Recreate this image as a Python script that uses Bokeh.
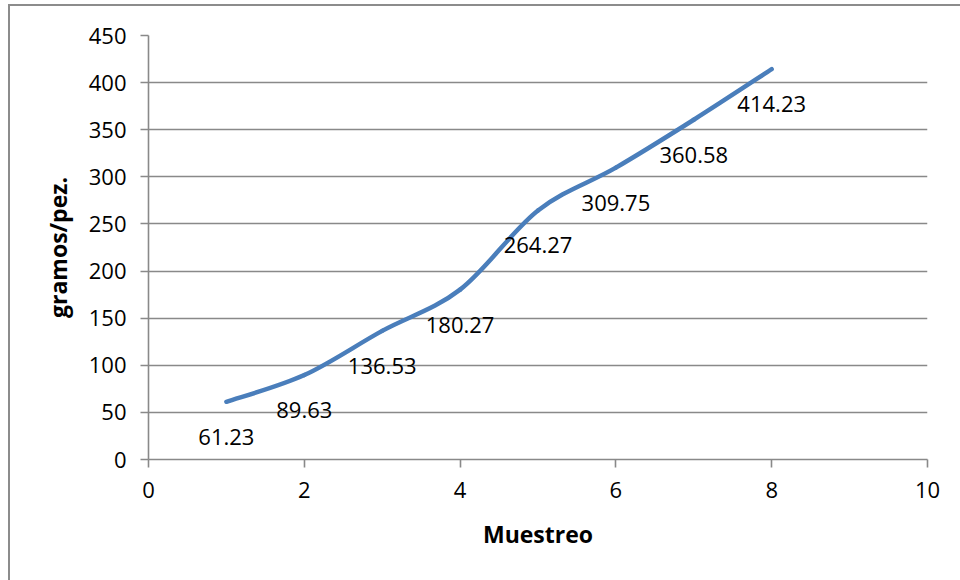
from bokeh.plotting import figure
from bokeh.models import ColumnDataSource, FixedTicker
from bokeh.embed import file_html
from bokeh.resources import INLINE
from bokeh.core.properties import value

# Data
muestreo = [1, 2, 3, 4, 5, 6, 7, 8]
gramos = [61.23, 89.63, 136.53, 180.27, 264.27, 309.75, 360.58, 414.23]
labels = ["61.23", "89.63", "136.53", "180.27", "264.27", "309.75", "360.58", "414.23"]
x_ticks = [0, 2, 4, 6, 8, 10]
y_ticks = [0, 50, 100, 150, 200, 250, 300, 350, 400, 450]

FONT = "Open Sans"
GRAY = "#898989"

p = figure(width=950, height=574, x_range=(0, 10), y_range=(0, 450),
           output_backend="svg", toolbar_location=None,
           min_border_left=138, min_border_right=33,
           min_border_top=29, min_border_bottom=121)
p.margin = (6, 0, 0, 10)
p.styles = {"outline": "2px solid #8c8c8c"}
p.outline_line_color = None
p.background_fill_color = "white"
p.border_fill_color = "white"

# Grid
p.xgrid.grid_line_color = None
p.ygrid.grid_line_color = GRAY
p.ygrid.grid_line_width = 1.6
p.ygrid.ticker = FixedTicker(ticks=y_ticks)

# Axes
p.xaxis.ticker = FixedTicker(ticks=x_ticks)
p.yaxis.ticker = FixedTicker(ticks=y_ticks)
for ax in (p.xaxis[0], p.yaxis[0]):
    ax.axis_line_color = GRAY
    ax.axis_line_width = 1.6
    ax.major_tick_line_color = GRAY
    ax.major_tick_line_width = 1.6
    ax.major_tick_in = 0
    ax.major_tick_out = 8
    ax.minor_tick_line_color = None
    ax.major_label_text_font = FONT
    ax.major_label_text_font_size = "22px"
    ax.major_label_text_color = "black"
    ax.axis_label_text_font = FONT
    ax.axis_label_text_font_size = "23px"
    ax.axis_label_text_font_style = "bold"
    ax.axis_label_text_color = "black"

p.xaxis.axis_label = "Muestreo"
p.yaxis.axis_label = "gramos/pez."
p.xaxis.major_label_standoff = 14
p.yaxis.major_label_standoff = 14
p.xaxis.axis_label_standoff = 17
p.yaxis.axis_label_standoff = 12

# Smoothed line (Bezier segments from data, Catmull-Rom style control points)
n = len(muestreo)
x0, y0, x1, y1, cx0, cy0, cx1, cy1 = [], [], [], [], [], [], [], []
for i in range(n - 1):
    xm = muestreo[max(i - 1, 0)]; ym = gramos[max(i - 1, 0)]
    xa = muestreo[i]; ya = gramos[i]
    xb = muestreo[i + 1]; yb = gramos[i + 1]
    xp = muestreo[min(i + 2, n - 1)]; yp = gramos[min(i + 2, n - 1)]
    x0.append(xa); y0.append(ya); x1.append(xb); y1.append(yb)
    cx0.append(xa + (xb - xm) / 6); cy0.append(ya + (yb - ym) / 6)
    cx1.append(xb - (xp - xa) / 6); cy1.append(yb - (yp - ya) / 6)

seg = ColumnDataSource(dict(x0=x0, y0=y0, x1=x1, y1=y1, cx0=cx0, cy0=cy0, cx1=cx1, cy1=cy1))
p.bezier(x0="x0", y0="y0", x1="x1", y1="y1", cx0="cx0", cy0="cy0", cx1="cx1", cy1="cy1",
         source=seg, line_color="#4A7EBB", line_width=4.5, line_cap="round")

# Data labels
src = ColumnDataSource(dict(x=muestreo, y=gramos, t=labels))
p.text(x="x", y="y", text="t", source=src, text_align="center", text_baseline="middle",
       y_offset=35, text_font=value(FONT), text_font_size="22px", text_color="black")

open("out.html", "w").write(file_html(p, INLINE))
